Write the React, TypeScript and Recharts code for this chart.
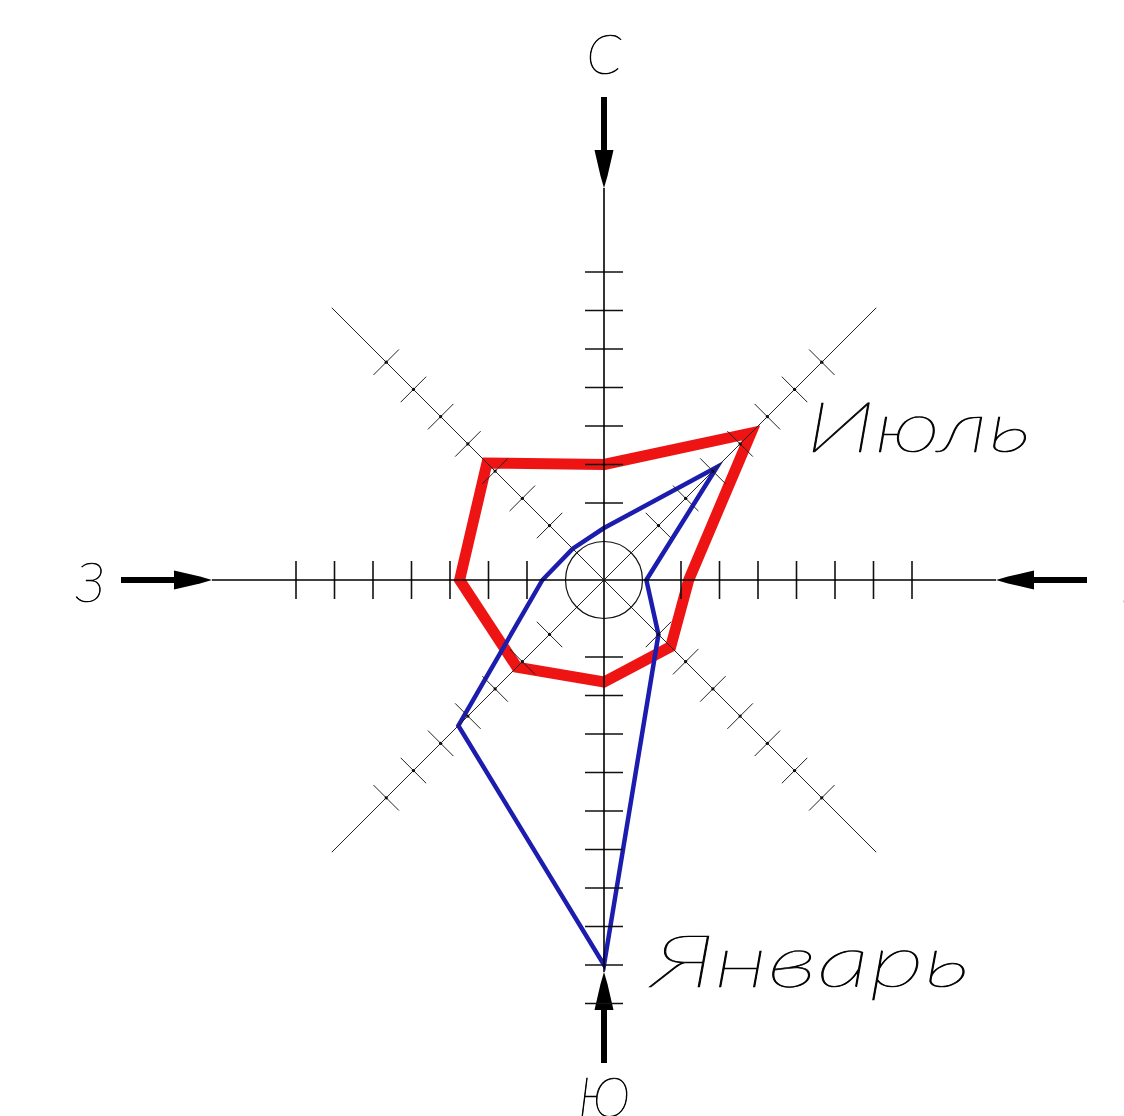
import { RadarChart, Radar, PolarAngleAxis, PolarRadiusAxis } from 'recharts';

// румбы по часовой стрелке начиная с севера
const DIRS = ['С', 'СВ', 'В', 'ЮВ', 'Ю', 'ЮЗ', 'З', 'СЗ'];
// повторяемость ветров, %
const JULY = [3.0, 5.4, 2.2, 2.45, 2.65, 3.2, 3.75, 4.3];
const JANUARY = [1.35, 4.15, 1.1, 2.0, 10.0, 5.35, 1.6, 1.15];
// шкала
const SCALE_MAX = 11;
const SCALE_TICKS = [0, 1, 2, 3, 4, 5, 6, 7, 8, 9, 10, 11];
const CALM = 1;
const AXIS_END = 10;
const TICK_FROM = 2;
const TICK_TO = [8, 8, 8, 8, 11, 8, 8, 8];

const CX = 604;
const CY = 580;
const LABEL_R: Record<string, number> = { С: 528, В: 532, Ю: 515, З: 514 };
const FONT = 'Lato, "DejaVu Sans", sans-serif';

const data = DIRS.map((dir, i) => ({ dir, july: JULY[i], january: JANUARY[i] }));

const spokeAngle = (i: number) => ((90 - 45 * i) * Math.PI) / 180;

// засечки, окружность штиля и оси — всё от шкалы радиальной оси
const SpokeMarks = (props: any) => {
  const { x, y, payload } = props;
  const v = payload.value;
  const r = Math.hypot(x - CX, y - CY);
  const parts: any[] = [];

  if (v === CALM) {
    parts.push(<circle key="calm" cx={CX} cy={CY} r={r} fill="none" stroke="#111" strokeWidth={1.2} />);
  }

  if (v === AXIS_END) {
    DIRS.forEach((_, i) => {
      const a = spokeAngle(i);
      const ux = Math.cos(a);
      const uy = -Math.sin(a);
      const nx = -uy;
      const ny = ux;
      if (i % 2 === 1) {
        parts.push(
          <line key={`d${i}`} x1={CX} y1={CY} x2={CX + ux * r} y2={CY + uy * r} stroke="#222" strokeWidth={1} />
        );
        return;
      }
      const tip = r + 7;
      const base = r + 45;
      const end = r + 98;
      parts.push(
        <line key={`a${i}`} x1={CX} y1={CY} x2={CX + ux * tip} y2={CY + uy * tip} stroke="#000" strokeWidth={1.6} />,
        <polygon
          key={`h${i}`}
          points={[
            [CX + ux * tip, CY + uy * tip],
            [CX + ux * (tip + 12) + nx * 3.5, CY + uy * (tip + 12) + ny * 3.5],
            [CX + ux * base + nx * 9.5, CY + uy * base + ny * 9.5],
            [CX + ux * base - nx * 9.5, CY + uy * base - ny * 9.5],
            [CX + ux * (tip + 12) - nx * 3.5, CY + uy * (tip + 12) - ny * 3.5],
          ]
            .map((p) => p.join(','))
            .join(' ')}
          fill="#000"
        />,
        <line
          key={`s${i}`}
          x1={CX + ux * base}
          y1={CY + uy * base}
          x2={CX + ux * end}
          y2={CY + uy * end}
          stroke="#000"
          strokeWidth={6}
        />
      );
    });
  }

  DIRS.forEach((_, i) => {
    if (v < TICK_FROM || v > TICK_TO[i]) return;
    const a = spokeAngle(i);
    const ux = Math.cos(a);
    const uy = -Math.sin(a);
    const px = CX + ux * r;
    const py = CY + uy * r;
    const diag = i % 2 === 1;
    const h = diag ? 18 : 19;
    parts.push(
      <line
        key={`t${i}`}
        x1={px + uy * h}
        y1={py - ux * h}
        x2={px - uy * h}
        y2={py + ux * h}
        stroke={diag ? '#222' : '#111'}
        strokeWidth={diag ? 1 : 1.6}
      />
    );
    if (diag) parts.push(<circle key={`p${i}`} cx={px} cy={py} r={1.6} fill="#000" />);
  });

  return <g>{parts}</g>;
};

// буквы сторон света
const CardinalTick = (props: any) => {
  const { x, y, payload } = props;
  const R = LABEL_R[payload.value];
  if (!R) return <g />;
  const len = Math.hypot(x - CX, y - CY) || 1;
  return (
    <text
      x={CX + ((x - CX) / len) * R}
      y={CY + ((y - CY) / len) * R}
      textAnchor="middle"
      dominantBaseline="central"
      fontFamily={FONT}
      fontStyle="italic"
      fontWeight={100}
      fontSize={56}
      fill="#000"
      stroke="#000"
      strokeWidth={0.7}
    >
      {payload.value}
    </text>
  );
};

const monthLabel = (text: string, at: number, dx: number, dy: number, width: number, size: number) =>
  (props: any) => {
    if (props.index !== at) return <g key={props.index} />;
    return (
      <text
        key={props.index}
        x={props.cx + dx}
        y={props.cy + dy}
        textLength={width}
        lengthAdjust="spacingAndGlyphs"
        fontFamily={FONT}
        fontStyle="italic"
        fontWeight={100}
        fontSize={size}
        fill="#000"
        stroke="#000"
        strokeWidth={0.7}
      >
        {text}
      </text>
    );
  };

export default function App() {
  return (
    <div style={{ position: 'absolute', left: 0, top: 0, background: '#fff' }}>
      <RadarChart
        width={1124}
        height={1116}
        data={data}
        cx={CX}
        cy={CY}
        outerRadius={423.5}
        margin={{ top: 0, right: 0, bottom: 0, left: 0 }}
      >
        <PolarAngleAxis dataKey="dir" axisLine={false} tickLine={false} tick={<CardinalTick />} />
        <PolarRadiusAxis
          angle={90}
          type="number"
          domain={[0, SCALE_MAX]}
          ticks={SCALE_TICKS as any}
          tickCount={SCALE_TICKS.length}
          allowDecimals={false}
          axisLine={false}
          tick={<SpokeMarks />}
        />
        <Radar
          name="Июль"
          dataKey="july"
          stroke="#ee1414"
          strokeWidth={11}
          strokeLinejoin="miter"
          fill="none"
          fillOpacity={0}
          dot={monthLabel('Июль', 1, 55, 19, 225, 70)}
          isAnimationActive={false}
        />
        <Radar
          name="Январь"
          dataKey="january"
          stroke="#1c1cae"
          strokeWidth={4.5}
          strokeLinejoin="miter"
          fill="none"
          fillOpacity={0}
          dot={monthLabel('Январь', 4, 48, 22, 318, 72)}
          isAnimationActive={false}
        />
      </RadarChart>
    </div>
  );
}
